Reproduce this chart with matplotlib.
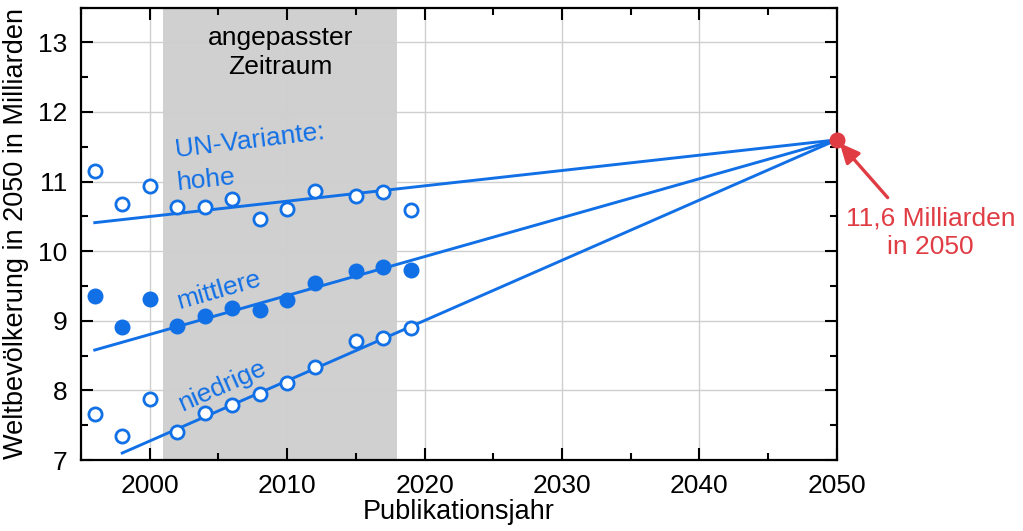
import numpy as np
import matplotlib
matplotlib.use('Agg')
import matplotlib.pyplot as plt
from matplotlib.ticker import MultipleLocator

plt.rcParams['font.family'] = ['Liberation Sans', 'DejaVu Sans']

# Publikationsjahre der UN-Prognosen
jahre = [1996, 1998, 2000, 2002, 2004, 2006, 2008, 2010, 2012, 2015, 2017, 2019]
hohe = [11.15, 10.68, 10.94, 10.63, 10.64, 10.75, 10.46, 10.61, 10.87, 10.80, 10.85, 10.59]
mittlere = [9.36, 8.91, 9.31, 8.92, 9.07, 9.19, 9.15, 9.30, 9.55, 9.72, 9.77, 9.73]
niedrige = [7.66, 7.34, 7.87, 7.40, 7.67, 7.79, 7.95, 8.11, 8.34, 8.71, 8.75, 8.90]

# angepasste Geraden (Start -> 2050)
fit_start_jahr = [1996, 1996, 1998]
fit_start_wert = [10.41, 8.58, 7.10]
ziel_jahr = 2050
ziel_wert = 11.6

zeitraum = (2001, 2018)

blau = '#1270e6'
rot = '#e03c44'
fs = 19

fig = plt.figure(figsize=(10.23, 5.31), dpi=100)
ax = fig.add_axes([0.0792, 0.1337, 0.7388, 0.852])

ax.axvspan(*zeitraum, color='#d0d0d0', zorder=0, lw=0)
ax.grid(True, which='major', color='#cfcfcf', lw=1, zorder=0.5)
ax.set_axisbelow(True)

for x0, y0 in zip(fit_start_jahr, fit_start_wert):
    ax.plot([x0, ziel_jahr], [y0, ziel_wert], color=blau, lw=2.1, zorder=2)

mk = dict(ls='none', marker='o', ms=9.5, mew=2.0, zorder=3)
ax.plot(jahre, hohe, mfc='white', mec=blau, **mk)
ax.plot(jahre, mittlere, mfc=blau, mec=blau, **mk)
ax.plot(jahre, niedrige, mfc='white', mec=blau, **mk)
ax.plot([ziel_jahr], [ziel_wert], 'o', color=rot, ms=10.5, zorder=5, clip_on=False)

ax.text(np.mean(zeitraum), 12.85, 'angepasster\nZeitraum', ha='center', va='center',
        fontsize=fs, linespacing=1.25)
ax.text(2007.3, 11.59, 'UN-Variante:', color=blau, fontsize=fs, rotation=7,
        ha='center', va='center', rotation_mode='anchor')
ax.text(2004.1, 11.03, 'hohe', color=blau, fontsize=fs, rotation=6,
        ha='center', va='center', rotation_mode='anchor')
ax.text(2005.0, 9.44, 'mittlere', color=blau, fontsize=fs, rotation=16,
        ha='center', va='center', rotation_mode='anchor')
ax.text(2005.3, 8.06, 'niedrige', color=blau, fontsize=fs, rotation=24,
        ha='center', va='center', rotation_mode='anchor')

ax.annotate('', xy=(ziel_jahr, ziel_wert), xytext=(2053.7, 10.77),
            annotation_clip=False,
            arrowprops=dict(arrowstyle='-|>,head_length=1.2,head_width=0.55', color=rot,
                            lw=2.4, shrinkA=0, shrinkB=3))
ax.text(2056.8, 10.27, '11,6 Milliarden\nin 2050', color=rot, fontsize=fs,
        ha='center', va='center', linespacing=1.25, clip_on=False)

ax.set_xlim(1995, 2050)
ax.set_ylim(7, 13.5)
ax.xaxis.set_major_locator(MultipleLocator(10))
ax.xaxis.set_minor_locator(MultipleLocator(5))
ax.yaxis.set_major_locator(MultipleLocator(1))
ax.yaxis.set_minor_locator(MultipleLocator(0.5))
ax.tick_params(which='both', direction='in', top=True, right=True, width=1.5,
               labelsize=fs, color='black')
ax.tick_params(which='major', length=8.5)
ax.tick_params(which='minor', length=5)
ax.tick_params(axis='x', pad=10)
ax.tick_params(axis='y', pad=10)
for s in ax.spines.values():
    s.set_linewidth(1.6)

ax.set_xlabel('Publikationsjahr', fontsize=19.5, labelpad=1)
ax.set_ylabel('Weltbevölkerung in 2050 in Milliarden', fontsize=19.5, labelpad=6)

fig.savefig('out.png', dpi=100)
